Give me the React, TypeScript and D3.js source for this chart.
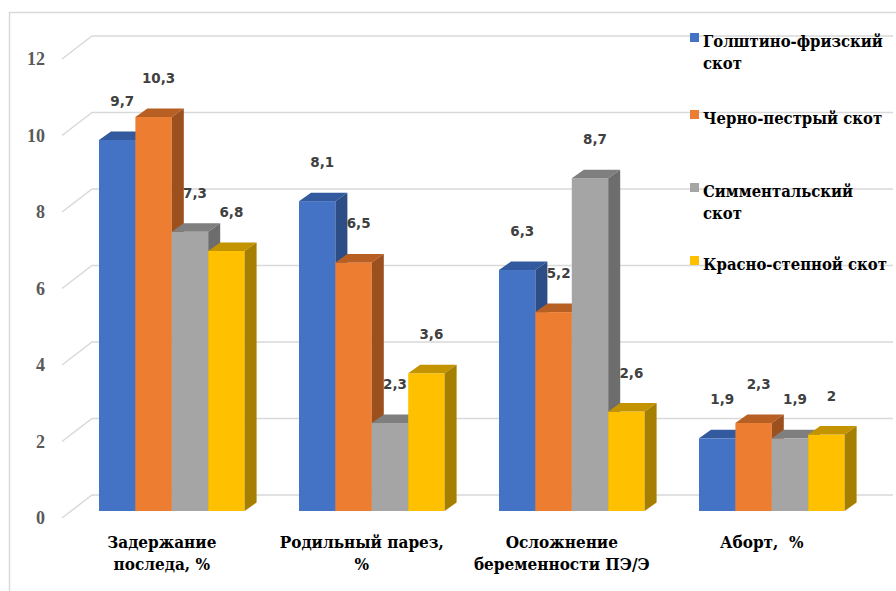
import React, { useEffect, useRef } from "react";
import * as d3 from "d3";

const categories = [
  ["Задержание", "последа, %"],
  ["Родильный парез,", "%"],
  ["Осложнение", "беременности ПЭ/Э"],
  ["Аборт,  %"],
];
const seriesNames = [
  ["Голштино-фризский", "скот"],
  ["Черно-пестрый скот"],
  ["Симментальский", "скот"],
  ["Красно-степной  скот"],
];
const holstein = [9.7, 8.1, 6.3, 1.9];
const blackPied = [10.3, 6.5, 5.2, 2.3];
const simmental = [7.3, 2.3, 8.7, 1.9];
const redSteppe = [6.8, 3.6, 2.6, 2];
const yTicks = [0, 2, 4, 6, 8, 10, 12];

// front, top, side
const colors = [
  ["#4472C4", "#335A9E", "#2C4D86"],
  ["#ED7D31", "#B85F24", "#9C501E"],
  ["#A5A5A5", "#7F7F7F", "#6D6D6D"],
  ["#FFC000", "#C49300", "#A67F00"],
];

const serif = "'DejaVu Serif Condensed', 'DejaVu Serif', serif";

export default function App() {
  const ref = useRef<SVGSVGElement>(null);

  useEffect(() => {
    const width = 896;
    const height = 591;
    const series = [holstein, blackPied, simmental, redSteppe];
    const depth = { dx: 12, dy: -8.5 };
    const wall = { dx: 30, dy: 23 };

    const svg = d3.select(ref.current);
    svg.selectAll("*").remove();
    svg.attr("width", width).attr("height", height);

    svg
      .append("rect")
      .attr("x", 9.5)
      .attr("y", 12.5)
      .attr("width", 1000)
      .attr("height", 1000)
      .attr("fill", "white")
      .attr("stroke", "#D9D9D9")
      .attr("stroke-width", 1.5);

    // bar front plane
    const y = d3.scaleLinear().domain([0, 12]).range([511, 52]);
    const backOff = -16;
    const backX0 = 92;
    const backX1 = 893;

    const x0 = d3
      .scaleBand<number>()
      .domain(d3.range(categories.length))
      .range([71.8, 871.8])
      .paddingInner(0.272)
      .paddingOuter(0.136);
    const x1 = d3
      .scaleBand<number>()
      .domain(d3.range(series.length))
      .range([0, x0.bandwidth()]);

    // gridlines: back wall + left side wall
    const grid = svg.append("g").attr("stroke", "#D9D9D9").attr("stroke-width", 1.5).attr("fill", "none");
    yTicks.forEach(t => {
      const yb = y(t) + backOff;
      grid
        .append("polyline")
        .attr("points", `${backX0 - wall.dx},${yb + wall.dy} ${backX0},${yb} ${backX1},${yb}`);
    });

    // y tick labels
    svg
      .append("g")
      .selectAll("text")
      .data(yTicks)
      .enter()
      .append("text")
      .attr("x", 45)
      .attr("y", d => y(d) + backOff + wall.dy + 6)
      .attr("text-anchor", "end")
      .style("font-family", "'Liberation Serif', 'Times New Roman', serif")
      .style("font-weight", "bold")
      .style("font-size", "18px")
      .attr("fill", "#595959")
      .text(d => d);

    // bars
    const bars = svg.append("g");
    categories.forEach((_, ci) => {
      series.forEach((s, si) => {
        const v = s[ci];
        const bx = (x0(ci) as number) + (x1(si) as number);
        const bw = x1.bandwidth();
        const top = y(v);
        const bottom = y(0);
        const c = colors[si];
        bars
          .append("rect")
          .attr("x", bx)
          .attr("y", top)
          .attr("width", bw)
          .attr("height", bottom - top)
          .attr("fill", c[0]);
        bars
          .append("polygon")
          .attr(
            "points",
            `${bx},${top} ${bx + depth.dx},${top + depth.dy} ${bx + bw + depth.dx},${top + depth.dy} ${bx + bw},${top}`
          )
          .attr("fill", c[1]);
        bars
          .append("polygon")
          .attr(
            "points",
            `${bx + bw},${top} ${bx + bw + depth.dx},${top + depth.dy} ${bx + bw + depth.dx},${bottom + depth.dy} ${bx + bw},${bottom}`
          )
          .attr("fill", c[2]);
      });
    });

    // data labels
    const labels = svg.append("g");
    categories.forEach((_, ci) => {
      series.forEach((s, si) => {
        const v = s[ci];
        labels
          .append("text")
          .attr("x", (x0(ci) as number) + (x1(si) as number) + x1.bandwidth() / 2 + 5)
          .attr("y", y(v) - 34)
          .attr("text-anchor", "middle")
          .style("font-family", "'DejaVu Sans', sans-serif")
          .style("font-weight", "bold")
          .style("font-size", "13.5px")
          .attr("fill", "#404040")
          .text(String(v).replace(".", ","));
      });
    });

    // category labels
    categories.forEach((lines, ci) => {
      const t = svg
        .append("text")
        .attr("text-anchor", "middle")
        .style("font-family", serif)
        .style("font-weight", "bold")
        .style("font-size", "17px")
        .style("white-space", "pre")
        .attr("fill", "#000");
      lines.forEach((line, li) => {
        t.append("tspan")
          .attr("x", (x0(ci) as number) + x0.bandwidth() / 2 - 10)
          .attr("y", 548 + li * 22)
          .text(line);
      });
    });

    // legend
    const legendY = [33, 110, 183, 256];
    const legend = svg.append("g");
    seriesNames.forEach((lines, si) => {
      legend
        .append("rect")
        .attr("x", 690)
        .attr("y", legendY[si])
        .attr("width", 9)
        .attr("height", 9)
        .attr("fill", colors[si][0]);
      const t = legend
        .append("text")
        .style("font-family", serif)
        .style("font-weight", "bold")
        .style("font-size", "16.5px")
        .attr("fill", "#000");
      lines.forEach((line, li) => {
        t.append("tspan")
          .attr("x", 703)
          .attr("y", legendY[si] + 14 + li * 22)
          .text(line);
      });
    });
  }, []);

  return (
    <div>
      <svg ref={ref} style={{ position: "absolute", left: 0, top: 0, background: "white" }} />
    </div>
  );
}
